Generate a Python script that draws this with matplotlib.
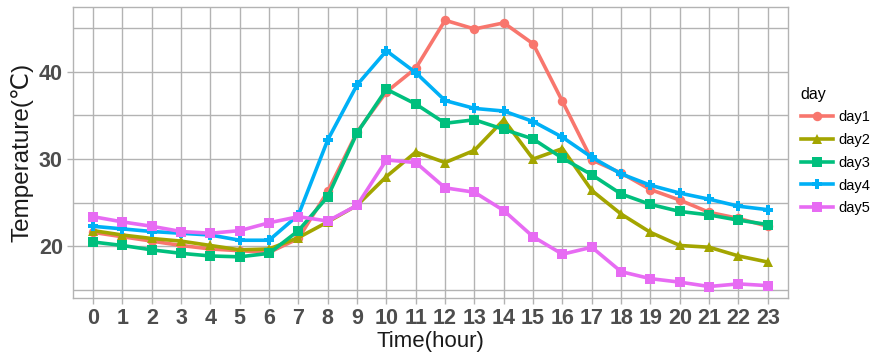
import matplotlib
matplotlib.use("Agg")
import matplotlib.pyplot as plt

# hourly temperatures for five days
hours = list(range(24))
days = ["day1", "day2", "day3", "day4", "day5"]

day1 = [21.6, 21.1, 20.6, 20.1, 19.7, 19.5, 19.3, 20.9, 26.3, 33.1, 37.7, 40.4,
        45.9, 44.9, 45.6, 43.2, 36.6, 29.9, 28.4, 26.5, 25.3, 23.9, 23.2, 22.3]
day2 = [21.8, 21.3, 20.9, 20.6, 20.1, 19.6, 19.7, 21.0, 22.8, 24.7, 28.0, 30.8,
        29.6, 31.0, 34.5, 30.0, 31.2, 26.4, 23.7, 21.6, 20.1, 19.9, 18.9, 18.2]
day3 = [20.5, 20.1, 19.6, 19.2, 18.9, 18.8, 19.2, 21.8, 25.7, 33.0, 38.0, 36.3,
        34.1, 34.5, 33.4, 32.3, 30.1, 28.2, 26.0, 24.8, 24.0, 23.6, 23.0, 22.5]
day4 = [22.3, 22.0, 21.7, 21.5, 21.3, 20.7, 20.7, 23.6, 32.2, 38.5, 42.4, 39.9,
        36.7, 35.8, 35.5, 34.3, 32.5, 30.2, 28.3, 27.0, 26.1, 25.4, 24.6, 24.2]
day5 = [23.4, 22.8, 22.3, 21.7, 21.5, 21.8, 22.7, 23.4, 22.9, 24.7, 29.9, 29.6,
        26.7, 26.2, 24.1, 21.1, 19.1, 19.9, 17.1, 16.3, 15.9, 15.4, 15.7, 15.5]
series = [day1, day2, day3, day4, day5]

colors = ["#F8766D", "#A3A500", "#00BF7D", "#00B0F6", "#E76BF3"]
markers = ["o", "^", "s", "P", "s"]

plain = ["Liberation Sans", "DejaVu Sans"]

fig = plt.figure(figsize=(8.74, 3.58), dpi=100)
ax = fig.add_axes([0.083, 0.168, 0.819, 0.812])

for name, vals, c, m in zip(days, series, colors, markers):
    ax.plot(hours, vals, color=c, lw=2.6, marker=m, ms=6.8, mew=0,
            label=name, solid_joinstyle="round")

ax.set_xlim(-0.7, 23.7)
ax.set_ylim(14.1, 47.4)
ax.set_xticks(hours)
ax.set_yticks([20, 30, 40])
ax.set_yticks([15, 25, 35, 45], minor=True)
ax.grid(True, which="both", color="#B3B3B3", lw=1.0)
ax.set_axisbelow(True)
for s in ax.spines.values():
    s.set_color("#B3B3B3")
    s.set_linewidth(1.0)

ax.tick_params(axis="both", which="major", length=4, width=1.0, color="#B3B3B3",
               labelcolor="#4D4D4D", pad=3)
ax.tick_params(axis="y", which="minor", length=0)
for lab in ax.get_xticklabels() + ax.get_yticklabels():
    lab.set_fontfamily(plain)
    lab.set_fontweight("bold")
    lab.set_fontsize(15.5)

ax.set_xlabel("Time(hour)", fontsize=16, family=plain, color="#1A1A1A", labelpad=2)
ax.set_ylabel("Temperature(℃)", fontsize=17.5, family=plain, color="#1A1A1A", labelpad=4)

leg = ax.legend(title="day", loc="upper left", bbox_to_anchor=(1.003, 0.762),
                frameon=False, handlelength=2.2, handletextpad=0.4,
                labelspacing=0.6, borderaxespad=0.3,
                prop={"family": plain, "size": 10.5})
leg.get_title().set_fontsize(11.5)
leg.get_title().set_fontfamily(plain)
leg._legend_box.align = "left"

fig.savefig("out.png", dpi=100)
